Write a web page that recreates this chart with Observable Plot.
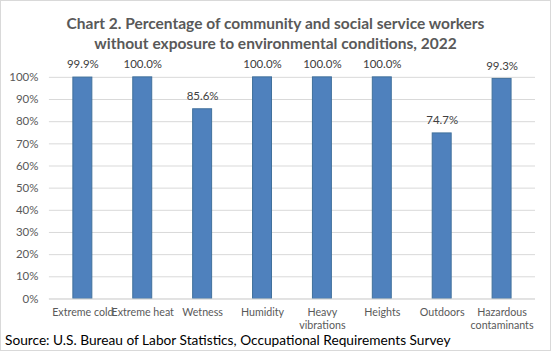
<!DOCTYPE html>
<html>
<head>
<meta charset="utf-8">
<script src="https://cdn.jsdelivr.net/npm/d3@7"></script>
<script src="https://cdn.jsdelivr.net/npm/@observablehq/plot@0.6"></script>
<style>
  html, body { margin: 0; padding: 0; background: #fff; }
  #wrap { position: relative; width: 549px; height: 349px; border: 1px solid #d9d9d9; overflow: hidden; font-family: Lato, "Open Sans", sans-serif; }
  #title { position: absolute; left: 0; top: 12px; width: 549px; text-align: center; font-weight: bold; font-size: 15.5px; line-height: 20px; color: #595959; }
  #source { position: absolute; left: 4px; top: 330px; font-size: 13.7px; color: #000; white-space: nowrap; }
  #chart { position: absolute; left: -1px; top: -1px; }
</style>
</head>
<body>
<div id="wrap">
  <div id="chart"></div>
  <div id="title">Chart 2. Percentage of community and social service workers<br>without exposure to environmental conditions, 2022</div>
  <div id="source">Source: U.S. Bureau of Labor Statistics, Occupational Requirements Survey</div>
</div>
<script>
const categories = ["Extreme cold", "Extreme heat", "Wetness", "Humidity", "Heavy\nvibrations", "Heights", "Outdoors", "Hazardous\ncontaminants"];
const values = [99.9, 100.0, 85.6, 100.0, 100.0, 100.0, 74.7, 99.3];
const yTicks = [0, 10, 20, 30, 40, 50, 60, 70, 80, 90, 100];

const data = categories.map((c, i) => ({category: c, value: values[i]}));

const chart = Plot.plot({
  width: 551,
  height: 351,
  marginTop: 77,
  marginBottom: 52,
  marginLeft: 49,
  marginRight: 15,
  style: {fontFamily: "Lato, 'Open Sans', sans-serif", background: "transparent"},
  x: {domain: categories, paddingInner: 0.69, paddingOuter: 0.345, label: null},
  y: {domain: [0, 100], label: null},
  marks: [
    Plot.gridY(yTicks, {stroke: "#d9d9d9", strokeOpacity: 1}),
    Plot.barY(data, {x: "category", y: "value", fill: "#4f81bd", stroke: "#41719c", strokeWidth: 1}),
    Plot.ruleY([0], {stroke: "#d9d9d9"}),
    Plot.text(data, {x: "category", y: "value", text: d => d.value.toFixed(1) + "%", dy: -13, fontSize: 11.5, fill: "#404040"}),
    Plot.axisY(yTicks, {tickSize: 0, tickPadding: 11, tickFormat: d => d + "%", fontSize: 11.5, color: "#595959", label: null}),
    Plot.axisX({tickSize: 0, tickPadding: 8, fontSize: 10.7, color: "#595959", label: null, lineHeight: 1.2})
  ]
});
document.getElementById("chart").appendChild(chart);
</script>
</body>
</html>
